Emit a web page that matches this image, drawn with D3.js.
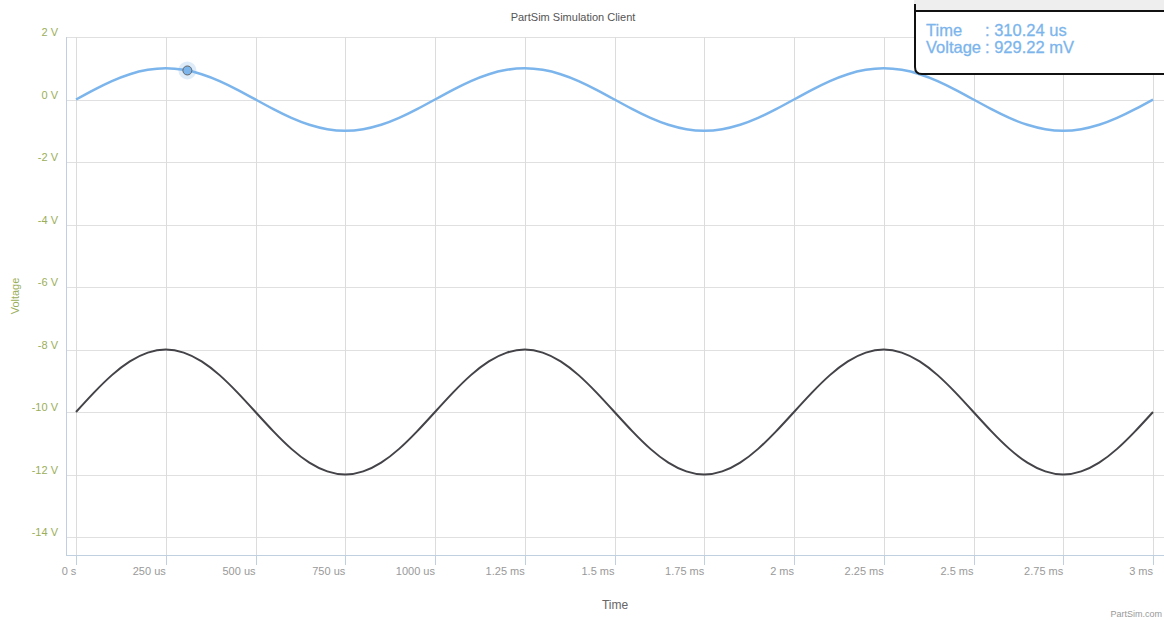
<!DOCTYPE html>
<html>
<head>
<meta charset="utf-8">
<script src="https://cdn.jsdelivr.net/npm/d3@7"></script>
<style>
  html, body { margin: 0; padding: 0; background: #fff; }
  svg { display: block; font-family: "Liberation Sans", Arial, sans-serif; }
</style>
</head>
<body>
<svg id="chart" width="1164" height="620"></svg>
<script>
// Sample times (microseconds)
const timeUs = [0, 50, 100, 150, 200, 250, 300, 350, 400, 450,
  500, 550, 600, 650, 700, 750, 800, 850, 900, 950,
  1000, 1050, 1100, 1150, 1200, 1250, 1300, 1350, 1400, 1450,
  1500, 1550, 1600, 1650, 1700, 1750, 1800, 1850, 1900, 1950,
  2000, 2050, 2100, 2150, 2200, 2250, 2300, 2350, 2400, 2450,
  2500, 2550, 2600, 2650, 2700, 2750, 2800, 2850, 2900, 2950, 3000];

// Probe 1 voltage (V)
const probeA = [0, 0.31, 0.59, 0.81, 0.95, 1.00, 0.95, 0.81, 0.59, 0.31,
  0, -0.31, -0.59, -0.81, -0.95, -1.00, -0.95, -0.81, -0.59, -0.31,
  0, 0.31, 0.59, 0.81, 0.95, 1.00, 0.95, 0.81, 0.59, 0.31,
  0, -0.31, -0.59, -0.81, -0.95, -1.00, -0.95, -0.81, -0.59, -0.31,
  0, 0.31, 0.59, 0.81, 0.95, 1.00, 0.95, 0.81, 0.59, 0.31,
  0, -0.31, -0.59, -0.81, -0.95, -1.00, -0.95, -0.81, -0.59, -0.31, 0];

// Probe 2 voltage (V)
const probeB = [-10, -9.38, -8.82, -8.38, -8.10, -8.00, -8.10, -8.38, -8.82, -9.38,
  -10, -10.62, -11.18, -11.62, -11.90, -12.00, -11.90, -11.62, -11.18, -10.62,
  -10, -9.38, -8.82, -8.38, -8.10, -8.00, -8.10, -8.38, -8.82, -9.38,
  -10, -10.62, -11.18, -11.62, -11.90, -12.00, -11.90, -11.62, -11.18, -10.62,
  -10, -9.38, -8.82, -8.38, -8.10, -8.00, -8.10, -8.38, -8.82, -9.38,
  -10, -10.62, -11.18, -11.62, -11.90, -12.00, -11.90, -11.62, -11.18, -10.62, -10];

// Axis ticks
const xTicks = [0, 250, 500, 750, 1000, 1250, 1500, 1750, 2000, 2250, 2500, 2750, 3000];
const xTickLabels = ["0 s", "250 us", "500 us", "750 us", "1000 us", "1.25 ms", "1.5 ms",
  "1.75 ms", "2 ms", "2.25 ms", "2.5 ms", "2.75 ms", "3 ms"];
const yTicks = [2, 0, -2, -4, -6, -8, -10, -12, -14];
const yTickLabels = ["2 V", "0 V", "-2 V", "-4 V", "-6 V", "-8 V", "-10 V", "-12 V", "-14 V"];

// Hovered point
const hoverTime = [310.24];
const hoverVolt = [0.92922];

const svg = d3.select("#chart");
const plot = { left: 66, right: 1164, top: 37, bottom: 555 };

const x = d3.scaleLinear().domain([0, 3000]).range([76, 1153]);
const y = d3.scaleLinear().domain([-14, 2]).range([537, 37]);

// Title
svg.append("text")
  .attr("x", 573).attr("y", 21)
  .attr("text-anchor", "middle")
  .attr("font-size", 11).attr("fill", "#555")
  .text("PartSim Simulation Client");

// Horizontal grid
svg.append("g").selectAll("line").data(yTicks).join("line")
  .attr("x1", plot.left).attr("x2", plot.right)
  .attr("y1", d => Math.round(y(d)) + 0.5).attr("y2", d => Math.round(y(d)) + 0.5)
  .attr("stroke", "#e0e0e0").attr("stroke-width", 1);

// Vertical grid
svg.append("g").selectAll("line").data(xTicks).join("line")
  .attr("x1", d => Math.round(x(d)) + 0.5).attr("x2", d => Math.round(x(d)) + 0.5)
  .attr("y1", plot.top).attr("y2", plot.bottom)
  .attr("stroke", "#dcdcdc").attr("stroke-width", 1);

// Axis lines
svg.append("line")
  .attr("x1", plot.left + 0.5).attr("x2", plot.left + 0.5)
  .attr("y1", plot.top).attr("y2", plot.bottom)
  .attr("stroke", "#c0d0e0");
svg.append("line")
  .attr("x1", plot.left).attr("x2", plot.right)
  .attr("y1", plot.bottom + 0.5).attr("y2", plot.bottom + 0.5)
  .attr("stroke", "#c0d0e0");

// X tick marks
svg.append("g").selectAll("line").data(xTicks).join("line")
  .attr("x1", d => Math.round(x(d)) + 0.5).attr("x2", d => Math.round(x(d)) + 0.5)
  .attr("y1", plot.bottom).attr("y2", plot.bottom + 10)
  .attr("stroke", "#c0d0e0");

// X tick labels
svg.append("g").selectAll("text").data(xTicks).join("text")
  .attr("x", d => x(d)).attr("y", 575)
  .attr("text-anchor", (d, i) => i === 0 ? "middle" : "end")
  .attr("dx", (d, i) => i === 0 ? -7 : 0)
  .attr("font-size", 11).attr("fill", "#999")
  .text((d, i) => xTickLabels[i]);

// Y tick labels
svg.append("g").selectAll("text").data(yTicks).join("text")
  .attr("x", 58).attr("y", d => y(d) - 1)
  .attr("text-anchor", "end")
  .attr("font-size", 11).attr("fill", "#9aae5a")
  .text((d, i) => yTickLabels[i]);

// Axis titles
svg.append("text")
  .attr("transform", "translate(19,296) rotate(-90)")
  .attr("text-anchor", "middle")
  .attr("font-size", 11).attr("fill", "#9aae5a")
  .text("Voltage");
svg.append("text")
  .attr("x", 615).attr("y", 609)
  .attr("text-anchor", "middle")
  .attr("font-size", 12).attr("fill", "#666")
  .text("Time");

// Credit
svg.append("text")
  .attr("x", 1162).attr("y", 617)
  .attr("text-anchor", "end")
  .attr("font-size", 9).attr("fill", "#999")
  .text("PartSim.com");

// Series
const line = d3.line()
  .x((d, i) => x(timeUs[i]))
  .y(d => y(d))
  .curve(d3.curveNatural);

svg.append("path").datum(probeB)
  .attr("d", line).attr("fill", "none")
  .attr("stroke", "#434348").attr("stroke-width", 2);

svg.append("path").datum(probeA)
  .attr("d", line).attr("fill", "none")
  .attr("stroke", "#7cb5ec").attr("stroke-width", 2.5);

// Hover marker
const hx = x(hoverTime[0]), hy = y(hoverVolt[0]);
svg.append("circle").attr("cx", hx).attr("cy", hy).attr("r", 9)
  .attr("fill", "#7cb5ec").attr("fill-opacity", 0.25);
svg.append("circle").attr("cx", hx).attr("cy", hy).attr("r", 4.5)
  .attr("fill", "#7cb5ec").attr("stroke", "#666").attr("stroke-width", 1);

// Tooltip box
const tip = svg.append("g");
tip.append("rect")
  .attr("x", 914).attr("y", 0).attr("width", 260).attr("height", 10)
  .attr("fill", "#eeeeee");
tip.append("path")
  .attr("d", "M915,4 L915,67 Q915,74 922,74 L1170,74 L1170,11 L915,11")
  .attr("fill", "#fff").attr("stroke", "#111").attr("stroke-width", 2);
const tipText = tip.append("g").attr("font-size", 16.5).attr("fill", "#7cb5ec")
  .attr("stroke", "#7cb5ec").attr("stroke-width", 0.3);
tipText.append("text").attr("x", 926).attr("y", 36).text("Time");
tipText.append("text").attr("x", 985).attr("y", 36)
  .text(": " + hoverTime[0].toFixed(2) + " us");
tipText.append("text").attr("x", 926).attr("y", 53).text("Voltage");
tipText.append("text").attr("x", 985).attr("y", 53)
  .text(": " + (hoverVolt[0] * 1000).toFixed(2) + " mV");
</script>
</body>
</html>
